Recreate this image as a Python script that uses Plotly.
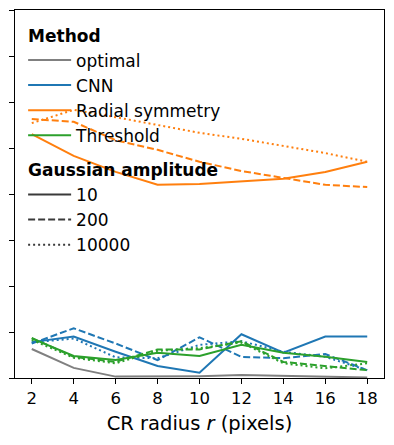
import plotly.graph_objects as go

# CR radius (pixels)
radius = [2, 4, 6, 8, 10, 12, 14, 16, 18]

# error per method, one list per Gaussian amplitude (10 / 200 / 10000)
optimal_10 = [0.63, 0.22, 0.03, 0.03, 0.04, 0.065, 0.045, 0.03, 0.01]

cnn_10 = [0.78, 0.90, 0.57, 0.26, 0.115, 0.95, 0.55, 0.90, 0.90]
cnn_200 = [0.75, 1.08, 0.75, 0.39, 0.885, 0.46, 0.43, 0.52, 0.17]
cnn_10000 = [0.77, 0.86, 0.45, 0.43, 0.72, 0.80, 0.57, 0.46, 0.17]

radial_10 = [5.30, 4.83, 4.48, 4.20, 4.22, 4.28, 4.33, 4.48, 4.70]
radial_200 = [5.63, 5.57, 5.17, 4.96, 4.70, 4.50, 4.35, 4.20, 4.15]
radial_10000 = [5.54, 5.83, 5.67, 5.50, 5.33, 5.20, 5.04, 4.89, 4.70]

threshold_10 = [0.86, 0.48, 0.39, 0.55, 0.48, 0.72, 0.55, 0.46, 0.35]
threshold_200 = [0.87, 0.46, 0.35, 0.62, 0.62, 0.80, 0.35, 0.26, 0.17]
threshold_10000 = [0.83, 0.44, 0.32, 0.59, 0.65, 0.77, 0.32, 0.21, 0.32]

methods = ["optimal", "CNN", "Radial symmetry", "Threshold"]
amplitudes = ["10", "200", "10000"]

colors = {
    "optimal": "#808080",
    "CNN": "#1f77b4",
    "Radial symmetry": "#ff7f0e",
    "Threshold": "#2ca02c",
}
dashes = {"10": "solid", "200": "7px,3px", "10000": "2px,3px"}

series = [
    ("optimal", "10", optimal_10),
    ("CNN", "10", cnn_10),
    ("CNN", "200", cnn_200),
    ("CNN", "10000", cnn_10000),
    ("Radial symmetry", "10", radial_10),
    ("Radial symmetry", "200", radial_200),
    ("Radial symmetry", "10000", radial_10000),
    ("Threshold", "10", threshold_10),
    ("Threshold", "200", threshold_200),
    ("Threshold", "10000", threshold_10000),
]

FONT = "DejaVu Sans"

fig = go.Figure()

for method, amp, values in series:
    fig.add_trace(go.Scatter(
        x=radius, y=values, mode="lines",
        line=dict(color=colors[method], width=2, dash=dashes[amp]),
        showlegend=False, hoverinfo="skip",
    ))

# legend entries (proxy traces)
for method in methods:
    fig.add_trace(go.Scatter(
        x=[None], y=[None], mode="lines", name=method,
        line=dict(color=colors[method], width=2),
        legendgroup="method",
        legendgrouptitle=dict(text="<b>Method</b>"),
    ))
for amp in amplitudes:
    fig.add_trace(go.Scatter(
        x=[None], y=[None], mode="lines", name=amp,
        line=dict(color="#3a3a3a", width=2, dash=dashes[amp]),
        legendgroup="amp",
        legendgrouptitle=dict(text="<b>Gaussian amplitude</b>"),
    ))

fig.update_layout(
    width=394, height=445,
    margin=dict(l=15, r=10, t=10, b=67),
    paper_bgcolor="white", plot_bgcolor="white",
    font=dict(family=FONT, size=16.5, color="black"),
    legend=dict(
        x=0.022, y=0.98, xanchor="left", yanchor="top",
        bgcolor="rgba(0,0,0,0)", traceorder="grouped",
        tracegroupgap=9, itemwidth=43,
        font=dict(size=17),
        grouptitlefont=dict(size=17),
    ),
)

fig.update_xaxes(
    range=[1.2, 18.8], tickvals=radius,
    showline=True, linecolor="black", linewidth=1.2, mirror=True,
    ticks="outside", ticklen=5, tickcolor="black",
    showgrid=False, zeroline=False,
    tickfont=dict(size=16.5),
    title=dict(text="CR radius <i>r</i> (pixels)", font=dict(size=19.5), standoff=9),
)
fig.update_yaxes(
    range=[0, 8], dtick=1, showticklabels=False,
    showline=True, linecolor="black", linewidth=1.2, mirror=True,
    ticks="outside", ticklen=5, tickcolor="black",
    showgrid=False, zeroline=False,
)

fig.write_html(
    "out.html",
    config={"displayModeBar": False},
    post_script="document.body.style.margin='0px';",
)
